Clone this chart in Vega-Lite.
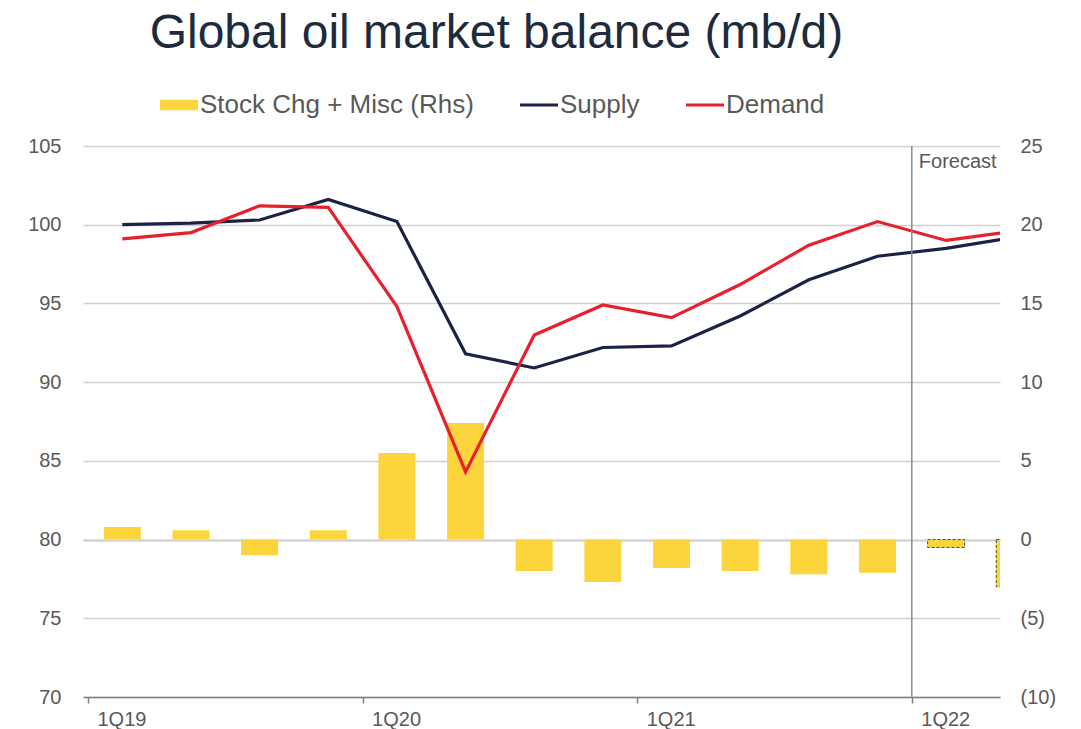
{
  "$schema": "https://vega.github.io/schema/vega-lite/v6.json",
  "width": 917,
  "height": 551,
  "autosize": {"type": "none"},
  "padding": {"left": 83, "top": 146, "right": 81, "bottom": 32},
  "background": "white",
  "config": {"font": "Liberation Sans", "view": {"stroke": null}},
  "title": {
    "text": "Global oil market balance (mb/d)",
    "fontSize": 48,
    "fontWeight": "normal",
    "color": "#1d2b3c",
    "anchor": "start",
    "dx": 122,
    "offset": 28
  },
  "datasets": {
    "balance": [
      {"q": "1Q19", "t": 2019.125, "series": "Stock Chg + Misc (Rhs)", "value": 0.8},
      {"q": "2Q19", "t": 2019.375, "series": "Stock Chg + Misc (Rhs)", "value": 0.6},
      {"q": "3Q19", "t": 2019.625, "series": "Stock Chg + Misc (Rhs)", "value": -1.0},
      {"q": "4Q19", "t": 2019.875, "series": "Stock Chg + Misc (Rhs)", "value": 0.6},
      {"q": "1Q20", "t": 2020.125, "series": "Stock Chg + Misc (Rhs)", "value": 5.5},
      {"q": "2Q20", "t": 2020.375, "series": "Stock Chg + Misc (Rhs)", "value": 7.4},
      {"q": "3Q20", "t": 2020.625, "series": "Stock Chg + Misc (Rhs)", "value": -2.0},
      {"q": "4Q20", "t": 2020.875, "series": "Stock Chg + Misc (Rhs)", "value": -2.7},
      {"q": "1Q21", "t": 2021.125, "series": "Stock Chg + Misc (Rhs)", "value": -1.8},
      {"q": "2Q21", "t": 2021.375, "series": "Stock Chg + Misc (Rhs)", "value": -2.0},
      {"q": "3Q21", "t": 2021.625, "series": "Stock Chg + Misc (Rhs)", "value": -2.2},
      {"q": "4Q21", "t": 2021.875, "series": "Stock Chg + Misc (Rhs)", "value": -2.1},
      {"q": "1Q22", "t": 2022.125, "series": "Stock Chg + Misc (Rhs)", "value": -0.5},
      {"q": "2Q22", "t": 2022.375, "series": "Stock Chg + Misc (Rhs)", "value": -3.0},
      {"q": "1Q19", "t": 2019.125, "series": "Supply", "value": 100.0},
      {"q": "2Q19", "t": 2019.375, "series": "Supply", "value": 100.1},
      {"q": "3Q19", "t": 2019.625, "series": "Supply", "value": 100.3},
      {"q": "4Q19", "t": 2019.875, "series": "Supply", "value": 101.6},
      {"q": "1Q20", "t": 2020.125, "series": "Supply", "value": 100.2},
      {"q": "2Q20", "t": 2020.375, "series": "Supply", "value": 91.8},
      {"q": "3Q20", "t": 2020.625, "series": "Supply", "value": 90.9},
      {"q": "4Q20", "t": 2020.875, "series": "Supply", "value": 92.2},
      {"q": "1Q21", "t": 2021.125, "series": "Supply", "value": 92.3},
      {"q": "2Q21", "t": 2021.375, "series": "Supply", "value": 94.2},
      {"q": "3Q21", "t": 2021.625, "series": "Supply", "value": 96.5},
      {"q": "4Q21", "t": 2021.875, "series": "Supply", "value": 98.0},
      {"q": "1Q22", "t": 2022.125, "series": "Supply", "value": 98.5},
      {"q": "2Q22", "t": 2022.375, "series": "Supply", "value": 99.2},
      {"q": "1Q19", "t": 2019.125, "series": "Demand", "value": 99.1},
      {"q": "2Q19", "t": 2019.375, "series": "Demand", "value": 99.5},
      {"q": "3Q19", "t": 2019.625, "series": "Demand", "value": 101.2},
      {"q": "4Q19", "t": 2019.875, "series": "Demand", "value": 101.1},
      {"q": "1Q20", "t": 2020.125, "series": "Demand", "value": 94.8},
      {"q": "2Q20", "t": 2020.375, "series": "Demand", "value": 84.3},
      {"q": "3Q20", "t": 2020.625, "series": "Demand", "value": 93.0},
      {"q": "4Q20", "t": 2020.875, "series": "Demand", "value": 94.9},
      {"q": "1Q21", "t": 2021.125, "series": "Demand", "value": 94.1},
      {"q": "2Q21", "t": 2021.375, "series": "Demand", "value": 96.2},
      {"q": "3Q21", "t": 2021.625, "series": "Demand", "value": 98.7},
      {"q": "4Q21", "t": 2021.875, "series": "Demand", "value": 100.2},
      {"q": "1Q22", "t": 2022.125, "series": "Demand", "value": 99.0},
      {"q": "2Q22", "t": 2022.375, "series": "Demand", "value": 99.6}
    ],
    "forecast": [{"t": 2022, "label": "Forecast", "level": 104}]
  },
  "encoding": {
    "x": {
      "field": "t",
      "type": "quantitative",
      "scale": {"domain": [2019, 2022.303], "nice": false, "zero": false},
      "axis": {
        "values": [2019, 2020, 2021, 2022],
        "labelExpr": "'1Q' + substring(toString(datum.value), 2, 4)",
        "title": null,
        "grid": false,
        "domainColor": "#808080",
        "domainWidth": 1.5,
        "tickColor": "#808080",
        "tickWidth": 1.5,
        "tickSize": 6,
        "labelAlign": "left",
        "labelOffset": 9,
        "labelBaseline": "top",
        "labelPadding": 6,
        "labelFontSize": 20,
        "labelColor": "#595959"
      }
    }
  },
  "layer": [
    {
      "data": {"name": "balance"},
      "transform": [{"filter": "datum.series === 'Stock Chg + Misc (Rhs)'"}],
      "encoding": {
        "y": {
          "field": "value",
          "type": "quantitative",
          "scale": {"domain": [-10, 25], "nice": false, "zero": false},
          "axis": {
            "orient": "right",
            "values": [-10, -5, 0, 5, 10, 15, 20, 25],
            "labelExpr": "datum.value < 0 ? '(' + abs(datum.value) + ')' : datum.value",
            "title": null,
            "domain": false,
            "ticks": false,
            "labelPadding": 20,
            "labelFontSize": 20,
            "labelColor": "#595959",
            "grid": true,
            "gridColor": {"condition": {"test": "datum.value === 0", "value": "#a6a6a6"}, "value": "rgba(0,0,0,0)"},
            "gridWidth": 1.5
          }
        },
        "color": {
          "field": "series",
          "type": "nominal",
          "scale": {
            "domain": ["Stock Chg + Misc (Rhs)", "Supply", "Demand"],
            "range": ["#FCD43C", "#1B2246", "#E8202E"]
          },
          "legend": {
            "orient": "none",
            "legendX": 77,
            "legendY": -60,
            "direction": "horizontal",
            "title": null,
            "labelFontSize": 26,
            "labelColor": "#595959",
            "labelFont": "Liberation Sans",
            "symbolType": "M-1,-0.27H1V0.27H-1Z",
            "symbolSize": 1444,
            "symbolStrokeWidth": 0,
            "labelOffset": 2,
            "columnPadding": 46,
            "labelLimit": 400,
            "encode": {
              "symbols": {
                "update": {
                  "shape": {"signal": "datum.value === 'Stock Chg + Misc (Rhs)' ? 'M-1,-0.27H1V0.27H-1Z' : 'M-1,-0.08H1V0.08H-1Z'"},
                  "fill": {"scale": "color", "field": "value"},
                  "strokeWidth": {"value": 0},
                  "opacity": {"value": 1}
                }
              }
            }
          }
        }
      },
      "layer": [
        {
          "mark": {"type": "bar", "size": 37, "clip": true}
        },
        {
          "transform": [{"filter": "datum.t > 2022"}],
          "mark": {"type": "bar", "size": 37, "clip": true, "stroke": "#3d4b5c", "strokeWidth": 1, "strokeDash": [3, 2]}
        }
      ]
    },
    {
      "layer": [
        {
          "data": {"name": "balance"},
          "transform": [{"filter": "datum.series !== 'Stock Chg + Misc (Rhs)'"}],
          "mark": {"type": "line", "strokeWidth": 3.2, "clip": true},
          "encoding": {
            "y": {
              "field": "value",
              "type": "quantitative",
              "scale": {"domain": [70, 105], "nice": false, "zero": false},
              "axis": {
                "orient": "left",
                "values": [70, 75, 80, 85, 90, 95, 100, 105],
                "title": null,
                "domain": false,
                "ticks": false,
                "labelPadding": 22,
                "labelFontSize": 20,
                "labelColor": "#595959",
                "grid": true,
                "gridColor": "#d0d0d0",
                "gridWidth": 1.5
              }
            },
            "color": {"field": "series", "type": "nominal"}
          }
        },
        {
          "data": {"name": "forecast"},
          "mark": {"type": "rule", "color": "#8a8a8a", "strokeWidth": 1.5},
          "encoding": {}
        },
        {
          "data": {"name": "forecast"},
          "mark": {"type": "text", "align": "left", "baseline": "middle", "dx": 7, "fontSize": 20, "color": "#595959"},
          "encoding": {
            "y": {"field": "level", "type": "quantitative"},
            "text": {"field": "label"}
          }
        }
      ]
    }
  ],
  "resolve": {"scale": {"y": "independent"}}
}
